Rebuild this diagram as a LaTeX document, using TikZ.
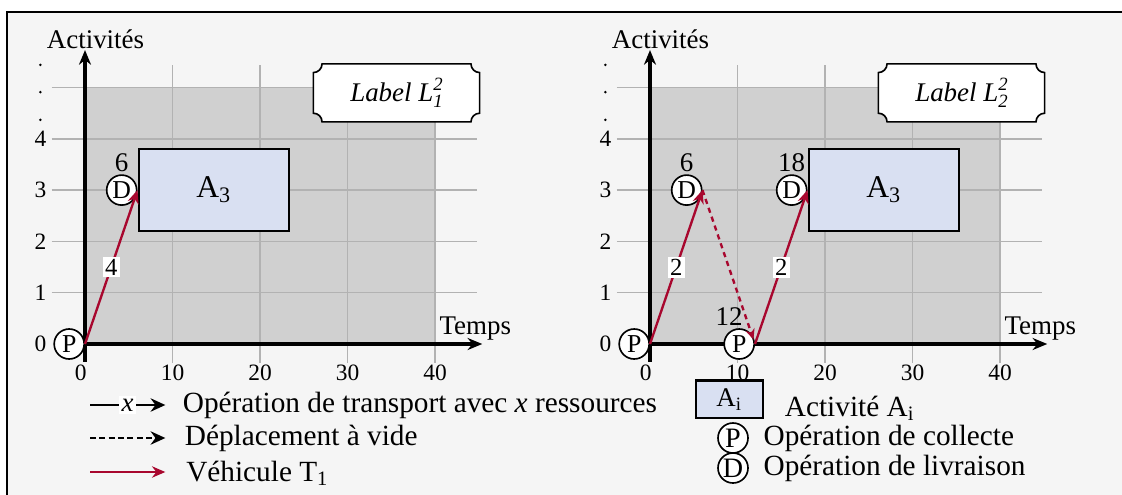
\documentclass[tikz,border=0pt]{standalone}
\usepackage{fontspec}
\setmainfont{Liberation Serif}
\usetikzlibrary{arrows.meta,positioning}

\definecolor{panelbg}{HTML}{F5F5F5}
\definecolor{zonegray}{HTML}{D0D0D0}
\definecolor{gridgray}{HTML}{B2B2B2}
\definecolor{actblue}{HTML}{D9E0F2}
\definecolor{vehred}{HTML}{A8072E}

\tikzset{
  gridline/.style={gridgray, line width=0.6pt},
  axis/.style={line width=1.3pt, -{Stealth[length=2.2mm,width=1.8mm]}},
  vehicle/.style={vehred, line width=1pt, -{Stealth[length=2mm,width=1.7mm]}},
  emptymove/.style={vehred, line width=1pt, dash pattern=on 2.2pt off 1.8pt, -{Stealth[length=1.6mm,width=1.4mm]}},
  transport/.style={black, line width=1pt, -{Stealth[length=2.2mm,width=2mm]}},
  stopnode/.style={circle, draw, fill=white, line width=0.7pt, inner sep=0pt, minimum size=0.45cm, font=\fontsize{11}{12}\selectfont},
  activity/.style={draw, fill=actblue, line width=0.9pt, minimum width=2.26cm, minimum height=1.22cm, anchor=west, font=\fontsize{13.5}{15}\selectfont},
  qty/.style={fill=white, text=black, inner sep=1pt, font=\fontsize{10.5}{12}\selectfont},
  ticklab/.style={font=\fontsize{10}{12}\selectfont},
  tagline/.style={draw=black, fill=white, line width=0.7pt},
  legtext/.style={anchor=west, font=\fontsize{12.5}{14}\selectfont},
}

\newlength{\tagr}
\setlength{\tagr}{1.3mm}

% concave corner label frame, #1 = prefix of its corner coordinates
\newcommand{\tagframe}[1]{%
  \draw[tagline] ([xshift=\tagr]#1nw) -- ([xshift=-\tagr]#1ne)
    arc[start angle=180,end angle=270,radius=\tagr] -- ([yshift=\tagr]#1se)
    arc[start angle=90,end angle=180,radius=\tagr] -- ([xshift=\tagr]#1sw)
    arc[start angle=0,end angle=90,radius=\tagr] -- ([yshift=-\tagr]#1nw)
    arc[start angle=-90,end angle=0,radius=\tagr] -- cycle;}

% grid, axes and tick labels of one planning
\newcommand{\planning}{%
  \fill[zonegray] (0,0) rectangle (40,5);
  \foreach \y in {1,...,5} \draw[gridline] (-3.8,\y) -- (44.8,\y);
  \foreach \x in {10,20,30,40} \draw[gridline] (\x,-0.37) -- (\x,5.44);
  \draw[axis] (0,-0.35) -- (0,5.73);
  \draw[axis] (0,0) -- (45.4,0);
  \foreach \y in {0,...,4} \node[ticklab] at (-5.1,\y) {\y};
  \foreach \y in {4.37,4.91,5.44} \fill (-5.1,\y) circle (0.6pt);
  \node[ticklab] at (-0.5,-0.57) {0};
  \foreach \x in {10,20,30,40} \node[ticklab] at (\x,-0.57) {\x};
  \node at (1.2,5.95) {Activités};
  \node at (44.6,0.3) {Temps};}

\begin{document}
\begin{tikzpicture}[font=\fontsize{11.5}{13}\selectfont]
\useasboundingbox (0,0) rectangle (16.83,7.41);

% Cadre
\draw[fill=panelbg, line width=0.8pt] (0.105,7.23) rectangle (17.2,-0.3);

% Planning gauche
\begin{scope}[shift={(1.275,2.25)}, x=0.13125cm, y=0.7695cm]
  \planning
  \coordinate (tlsw) at (26.1,4.33);
  \coordinate (tlse) at (45.1,4.33);
  \coordinate (tlne) at (45.1,5.46);
  \coordinate (tlnw) at (26.1,5.46);
  \tagframe{tl}
  \node (tagl) at (35.6,4.9) {\textit{Label L\rlap{\raisebox{-0.5ex}{\footnotesize 1}}\raisebox{0.9ex}{\footnotesize 2}}};

  \coordinate (lp) at (0,0);
  \coordinate (ld) at (6,3);
  \node[activity] (la3) at (ld) {A\textsubscript{3}};
  \node[stopnode, anchor=east, label={[inner sep=1pt]above:6}] (lD) at (ld) {D};
  \node[stopnode, anchor=east] (lP) at (lp) {P};
  \draw[vehicle] (lp) -- node[qty] {4} (ld);
\end{scope}

% Planning droit
\begin{scope}[shift={(9.75,2.25)}, x=0.13125cm, y=0.7695cm]
  \planning
  \coordinate (trsw) at (26.1,4.33);
  \coordinate (trse) at (45.1,4.33);
  \coordinate (trne) at (45.1,5.46);
  \coordinate (trnw) at (26.1,5.46);
  \tagframe{tr}
  \node (tagr) at (35.6,4.9) {\textit{Label L\rlap{\raisebox{-0.5ex}{\footnotesize 2}}\raisebox{0.9ex}{\footnotesize 2}}};

  \coordinate (rp1) at (0,0);
  \coordinate (rd1) at (6,3);
  \coordinate (rp2) at (12,0);
  \coordinate (rd2) at (18,3);
  \node[activity] (ra3) at (rd2) {A\textsubscript{3}};
  \node[stopnode, anchor=east] (rP1) at (rp1) {P};
  \node[stopnode, anchor=east, label={[inner sep=1pt]above:6}] (rD1) at (rd1) {D};
  \node[stopnode, anchor=east, label={[inner sep=1pt, xshift=-0.15cm]above:12}] (rP2) at (rp2) {P};
  \node[stopnode, anchor=east, label={[inner sep=1pt]above:18}] (rD2) at (rd2) {D};
  \draw[vehicle] (rp1) -- node[qty] {2} (rd1);
  \draw[emptymove, shorten >=2pt] (rd1) -- (rp2);
  \draw[vehicle] (rp2) -- node[qty] {2} (rd2);
\end{scope}

% Legende gauche
\coordinate (lg1a) at (1.35,1.335);
\coordinate (lg1b) at (2.48,1.335);
\coordinate (lg2a) at (1.35,0.84);
\coordinate (lg2b) at (2.48,0.84);
\coordinate (lg3a) at (1.35,0.33);
\coordinate (lg3b) at (2.48,0.33);
\draw[transport] (lg1a) -- node[fill=white, inner sep=1pt] {\textit{x}} (lg1b);
\draw[transport, dash pattern=on 2.5pt off 1.5pt] (lg2a) -- (lg2b);
\draw[vehicle] (lg3a) -- (lg3b);
\node[legtext] (lt1) at (2.62,1.335) {Opération de transport avec \textit{x} ressources};
\node[legtext] (lt2) at (2.65,0.84) {Déplacement à vide};
\node[legtext] (lt3) at (2.67,0.31) {Véhicule T\textsubscript{1}};

% Legende droite
\node[draw, fill=actblue, line width=0.9pt, minimum width=1.0cm, minimum height=0.5cm] (lgA) at (10.94,1.42) {A\textsubscript{i}};
\node[legtext] (rt1) at (11.65,1.29) {Activité A\textsubscript{i}};
\node[stopnode, font=\fontsize{12}{13}\selectfont] (lgP) at (10.995,0.84) {P};
\node[stopnode, font=\fontsize{12}{13}\selectfont] (lgD) at (10.995,0.39) {D};
\node[legtext] (rt2) at (11.33,0.84) {Opération de collecte};
\node[legtext] (rt3) at (11.33,0.39) {Opération de livraison};

\end{tikzpicture}
\end{document}
